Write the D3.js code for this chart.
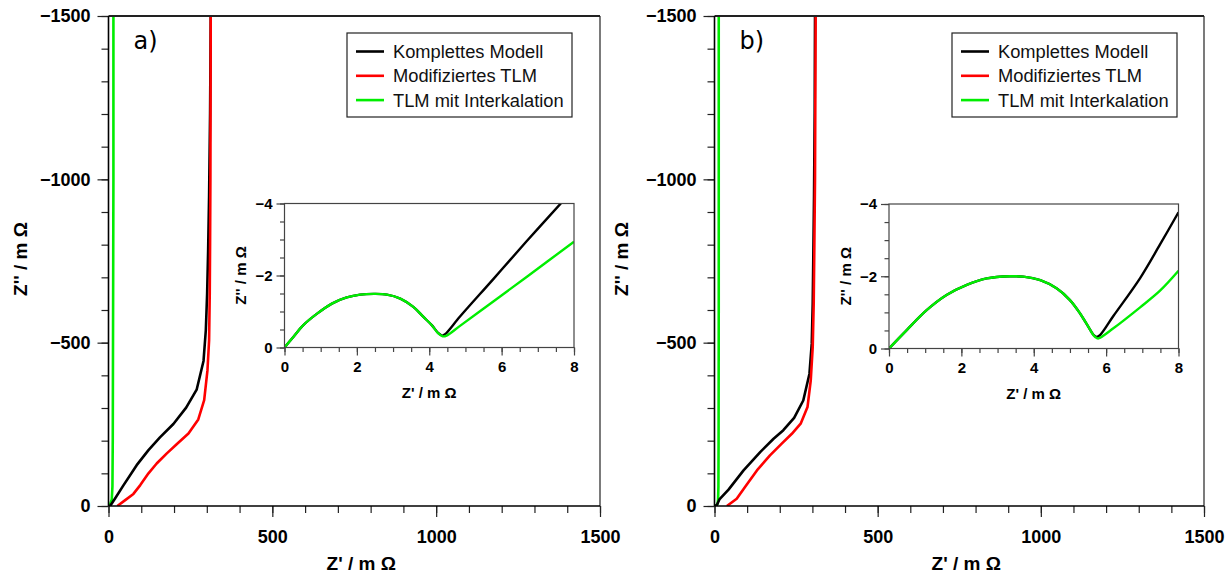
<!DOCTYPE html>
<html>
<head>
<meta charset="utf-8">
<script src="https://cdn.jsdelivr.net/npm/d3@7"></script>
<style>
  html, body { margin:0; padding:0; background:#fff; }
  svg { display:block; font-family:"Liberation Sans", Arial, sans-serif; }
</style>
</head>
<body>
<div id="chart"></div>
<script>
// ── data (Z' , Z'' in mΩ) ───────────────────────────
const SERIES = ["Komplettes Modell","Modifiziertes TLM","TLM mit Interkalation"];
const COLORS = { "Komplettes Modell":"#000000", "Modifiziertes TLM":"#ff0000", "TLM mit Interkalation":"#00ee00" };
const MAIN_X_TICKS = [0,500,1000,1500];
const MAIN_Y_TICKS = [0,-500,-1000,-1500];
const INSET_X_TICKS = [0,2,4,6,8];
const INSET_Y_TICKS = [0,-2,-4];

// panel a — full range
const A_BLACK = [[0,0],[5,0],[20,-23],[46,-64],[86,-125],[122,-171],[157,-210],[198,-251],[237,-301],[269,-356],[290,-444],[297,-538],[301,-650],[304,-780],[307,-950],[310,-1200],[312,-1500]];
const A_RED   = [[27,0],[51,-18],[76,-37],[97,-64],[122,-100],[147,-130],[178,-161],[208,-189],[244,-222],[274,-265],[292,-324],[302,-415],[307,-507],[309,-650],[310,-800],[311,-1000],[312,-1500]];
const A_GREEN = [[0,0],[5,-5],[10,-20],[12,-60],[13,-200],[14,-600],[15,-1000],[15,-1500]];
// panel a — inset
const A_IN_BLACK = [[0,0],[0.25,-0.30],[0.52,-0.62],[0.90,-0.94],[1.31,-1.22],[1.72,-1.39],[2.09,-1.47],[2.50,-1.49],[2.83,-1.47],[3.20,-1.36],[3.56,-1.13],[3.84,-0.85],[4.07,-0.62],[4.25,-0.40],[4.36,-0.33],[4.44,-0.37],[4.85,-0.86],[5.77,-1.90],[6.69,-2.95],[7.66,-4.03],[8,-4.4]];
const A_IN_GREEN = [[0,0],[0.25,-0.30],[0.52,-0.62],[0.90,-0.94],[1.31,-1.22],[1.72,-1.39],[2.09,-1.47],[2.50,-1.49],[2.83,-1.47],[3.20,-1.36],[3.56,-1.13],[3.84,-0.85],[4.07,-0.62],[4.25,-0.39],[4.37,-0.31],[4.48,-0.33],[4.85,-0.60],[5.77,-1.28],[6.69,-1.96],[8,-2.94]];
// panel b — full range
const B_BLACK = [[0,0],[7,-2],[15,-20],[43,-50],[89,-109],[140,-165],[181,-206],[211,-232],[244,-270],[272,-323],[291,-405],[298,-497],[301,-620],[303,-780],[305,-950],[307,-1200],[308,-1500]];
const B_RED   = [[38,0],[68,-22],[99,-66],[130,-109],[170,-155],[206,-191],[237,-221],[264,-252],[285,-303],[295,-385],[301,-487],[304,-620],[306,-800],[308,-1000],[310,-1500]];
const B_GREEN = [[0,0],[9,-5],[11,-20],[12,-60],[12.5,-200],[13,-600],[13,-1500]];
// panel b — inset
const B_IN_BLACK = [[0,0],[0.49,-0.51],[1.04,-1.06],[1.59,-1.48],[2.15,-1.76],[2.70,-1.94],[3.35,-2.00],[3.71,-1.99],[4.18,-1.89],[4.64,-1.66],[5.0,-1.34],[5.28,-0.97],[5.51,-0.60],[5.65,-0.38],[5.74,-0.32],[5.83,-0.37],[6.20,-0.90],[6.94,-1.95],[7.49,-2.88],[8,-3.77]];
const B_IN_GREEN = [[0,0],[0.49,-0.51],[1.04,-1.06],[1.59,-1.48],[2.15,-1.76],[2.70,-1.94],[3.35,-2.00],[3.71,-1.99],[4.18,-1.89],[4.64,-1.66],[5.0,-1.34],[5.28,-0.97],[5.51,-0.60],[5.65,-0.37],[5.74,-0.29],[5.79,-0.28],[6.2,-0.56],[6.94,-1.14],[7.49,-1.60],[8,-2.15]];

// ── layout ───────────────────────────────────────────
const W = 1230, H = 576;
const PANELS = [
  { tag:"a)", x0:108.5, x1:600, y0:506, y1:16, ytx:20, ins:{x0:284.5, x1:574, y0:347.5, y1:203.5, ytx:240},
    leg:{x:347, y:33},
    main:{ "Komplettes Modell":A_BLACK, "Modifiziertes TLM":A_RED, "TLM mit Interkalation":A_GREEN },
    inset:{ "Komplettes Modell":A_IN_BLACK, "TLM mit Interkalation":A_IN_GREEN } },
  { tag:"b)", x0:714.5, x1:1204, y0:506, y1:16, ytx:621, ins:{x0:889, x1:1178.5, y0:348.5, y1:204, ytx:845},
    leg:{x:952, y:33},
    main:{ "Komplettes Modell":B_BLACK, "Modifiziertes TLM":B_RED, "TLM mit Interkalation":B_GREEN },
    inset:{ "Komplettes Modell":B_IN_BLACK, "TLM mit Interkalation":B_IN_GREEN } }
];

const svg = d3.select("#chart").append("svg").attr("width",W).attr("height",H);
const defs = svg.append("defs");
const fmt = d3.format("d");

function axisStyle(sel, color, fs) {
  sel.select(".domain").remove();
  sel.selectAll("line").attr("stroke",color).attr("stroke-width",1.2);
  sel.selectAll("text").attr("fill","#000").attr("font-size",fs).attr("font-weight","bold")
    .attr("font-family","'Liberation Sans', Arial, sans-serif");
}

PANELS.forEach((p,pi)=>{
  const g = svg.append("g");
  const x = d3.scaleLinear().domain([0,1500]).range([p.x0,p.x1]);
  const y = d3.scaleLinear().domain([0,-1500]).range([p.y0,p.y1]);

  defs.append("clipPath").attr("id","clipm"+pi).append("rect")
    .attr("x",p.x0).attr("y",p.y1).attr("width",p.x1-p.x0).attr("height",p.y0-p.y1);

  // minor ticks
  g.append("g").attr("transform",`translate(0,${p.y0})`)
    .call(d3.axisBottom(x).tickValues(d3.range(0,1501,100)).tickSize(7).tickFormat(""))
    .call(s=>axisStyle(s,"#222",17));
  g.append("g").attr("transform",`translate(${p.x0},0)`)
    .call(d3.axisLeft(y).tickValues(d3.range(0,-1501,-100)).tickSize(7).tickFormat(""))
    .call(s=>axisStyle(s,"#222",17));
  // major ticks
  g.append("g").attr("transform",`translate(0,${p.y0})`)
    .call(d3.axisBottom(x).tickValues(MAIN_X_TICKS).tickSize(11).tickPadding(13).tickFormat(fmt))
    .call(s=>axisStyle(s,"#222",18));
  g.append("g").attr("transform",`translate(${p.x0},0)`)
    .call(d3.axisLeft(y).tickValues(MAIN_Y_TICKS).tickSize(11).tickPadding(7).tickFormat(d3.format("d")))
    .call(s=>axisStyle(s,"#222",18));

  // lines
  const line = d3.line().x(d=>x(d[0])).y(d=>y(d[1]));
  const lg = g.append("g").attr("clip-path",`url(#clipm${pi})`);
  ["TLM mit Interkalation","Komplettes Modell","Modifiziertes TLM"].forEach(k=>{
    lg.append("path").datum(p.main[k]).attr("d",line).attr("fill","none")
      .attr("stroke",COLORS[k]).attr("stroke-width",2.6).attr("stroke-linejoin","round");
  });

  // frame
  g.append("line").attr("x1",p.x0).attr("x2",p.x1).attr("y1",p.y1).attr("y2",p.y1).attr("stroke","#222").attr("stroke-width",2);
  g.append("line").attr("x1",p.x1).attr("x2",p.x1).attr("y1",p.y1).attr("y2",p.y0).attr("stroke","#222").attr("stroke-width",1.2);
  g.append("line").attr("x1",p.x0).attr("x2",p.x0).attr("y1",p.y1).attr("y2",p.y0).attr("stroke","#000").attr("stroke-width",1.6);
  g.append("line").attr("x1",p.x0).attr("x2",p.x1).attr("y1",p.y0).attr("y2",p.y0).attr("stroke","#000").attr("stroke-width",1.6);

  // titles
  g.append("text").attr("x",(p.x0+p.x1)/2+7).attr("y",570).attr("text-anchor","middle")
    .attr("font-size",19).attr("font-weight","bold").text("Z' / m Ω");
  g.append("text").attr("transform",`translate(${p.ytx+7},259) rotate(-90)`).attr("text-anchor","middle")
    .attr("font-size",19).attr("font-weight","bold").text("Z'' / m Ω");
  g.append("text").attr("x",p.x0+25).attr("y",49).attr("font-size",24)
    .attr("font-family","'DejaVu Sans', Verdana, sans-serif").text(p.tag);

  // legend
  const leg = g.append("g").attr("transform",`translate(${p.leg.x},${p.leg.y})`);
  leg.append("rect").attr("width",225).attr("height",84).attr("fill","#fff").attr("stroke","#222").attr("stroke-width",1.2);
  SERIES.forEach((k,i)=>{
    const yy = 18.5 + i*24.3;
    leg.append("line").attr("x1",9).attr("x2",37).attr("y1",yy).attr("y2",yy).attr("stroke",COLORS[k]).attr("stroke-width",2.6);
    leg.append("text").attr("x",46).attr("y",yy+6.5).attr("font-size",18.3).attr("fill","#111").text(k);
  });

  // inset
  const q = p.ins;
  const xi = d3.scaleLinear().domain([0,8]).range([q.x0,q.x1]);
  const yi = d3.scaleLinear().domain([0,-4]).range([q.y0,q.y1]);
  const ig = g.append("g");
  ig.append("rect").attr("x",q.x0).attr("y",q.y1).attr("width",q.x1-q.x0).attr("height",q.y0-q.y1).attr("fill","#fff");
  defs.append("clipPath").attr("id","clipi"+pi).append("rect")
    .attr("x",q.x0).attr("y",q.y1).attr("width",q.x1-q.x0).attr("height",q.y0-q.y1);

  ig.append("g").attr("transform",`translate(0,${q.y0})`)
    .call(d3.axisBottom(xi).tickValues(d3.range(0,8.01,0.5)).tickSize(4.5).tickFormat(""))
    .call(s=>axisStyle(s,"#444",14));
  ig.append("g").attr("transform",`translate(${q.x0},0)`)
    .call(d3.axisLeft(yi).tickValues(d3.range(0,-4.01,-0.5)).tickSize(4.5).tickFormat(""))
    .call(s=>axisStyle(s,"#444",14));
  ig.append("g").attr("transform",`translate(0,${q.y0})`)
    .call(d3.axisBottom(xi).tickValues(INSET_X_TICKS).tickSize(8).tickPadding(6).tickFormat(fmt))
    .call(s=>axisStyle(s,"#444",15));
  ig.append("g").attr("transform",`translate(${q.x0},0)`)
    .call(d3.axisLeft(yi).tickValues(INSET_Y_TICKS).tickSize(8).tickPadding(4).tickFormat(fmt))
    .call(s=>axisStyle(s,"#444",15));

  const iline = d3.line().x(d=>xi(d[0])).y(d=>yi(d[1])).curve(d3.curveCatmullRom.alpha(0.5));
  const il = ig.append("g").attr("clip-path",`url(#clipi${pi})`);
  ["Komplettes Modell","TLM mit Interkalation"].forEach(k=>{
    il.append("path").datum(p.inset[k]).attr("d",iline).attr("fill","none")
      .attr("stroke",COLORS[k]).attr("stroke-width",2.4).attr("stroke-linejoin","round");
  });

  ig.append("rect").attr("x",q.x0).attr("y",q.y1).attr("width",q.x1-q.x0).attr("height",q.y0-q.y1)
    .attr("fill","none").attr("stroke","#444").attr("stroke-width",1.2);

  ig.append("text").attr("x",(q.x0+q.x1)/2).attr("y",q.y0+50).attr("text-anchor","middle")
    .attr("font-size",15).attr("font-weight","bold").text("Z' / m Ω");
  ig.append("text").attr("transform",`translate(${q.ytx+6},${(q.y0+q.y1)/2}) rotate(-90)`).attr("text-anchor","middle")
    .attr("font-size",15).attr("font-weight","bold").text("Z'' / m Ω");
});
</script>
</body>
</html>
